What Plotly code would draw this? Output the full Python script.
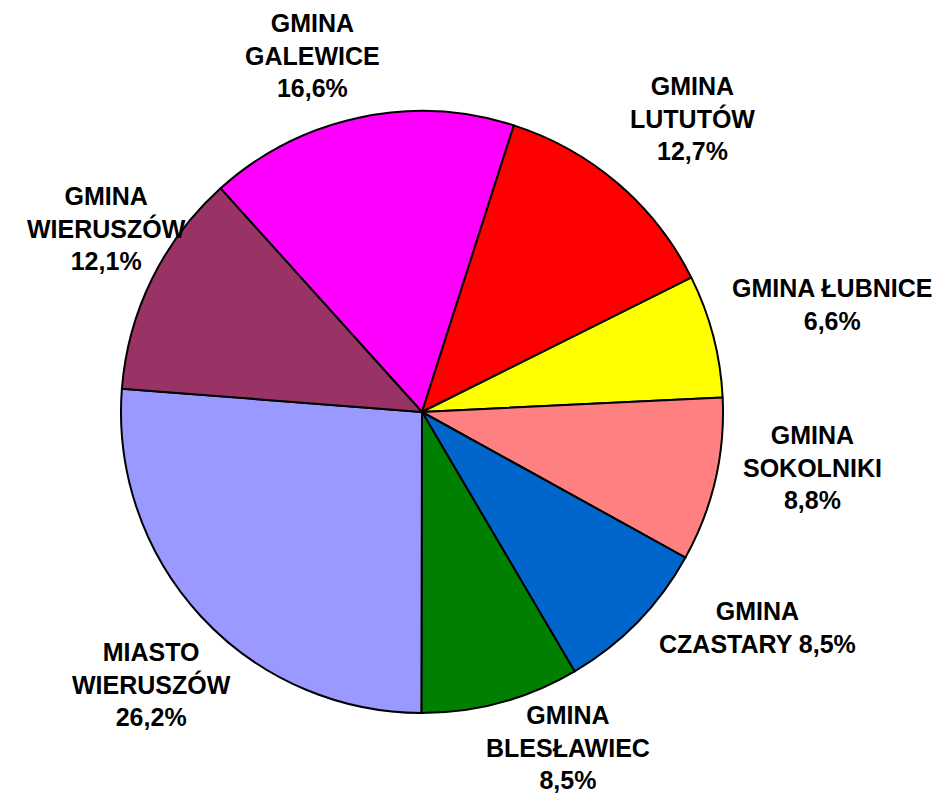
import math
import plotly.graph_objects as go

names = ["GMINA<br>GALEWICE", "GMINA<br>LUTUTÓW", "GMINA ŁUBNICE", "GMINA<br>SOKOLNIKI",
         "GMINA<br>CZASTARY", "GMINA<br>BLESŁAWIEC", "MIASTO<br>WIERUSZÓW", "GMINA<br>WIERUSZÓW"]
values = [16.6, 12.7, 6.6, 8.8, 8.5, 8.5, 26.2, 12.1]
colors = ["#FF00FF", "#FF0000", "#FFFF00", "#FF8080", "#0066CC", "#008000", "#9999FF", "#993366"]

pct = [f"{v:.1f}".replace(".", ",") + "%" for v in values]
text = [f"GMINA<br>CZASTARY {p}" if "CZASTARY" in n else f"{n}<br>{p}" for n, p in zip(names, pct)]

OFF = 8                             # default page body margin
W, H = 944 - OFF, 801 - OFF
CX, CY, R = 422 - OFF, 412 - OFF, 301   # pie centre / radius in figure pixels
ROT = -42                          # start angle of first slice (deg, clockwise from 12 o'clock)

# label placement (layout): angular shift from slice middle and distance from centre
lab_shift = [-5, 2, 0, -5, -11.5, -8.4, -2.5, 3.9]
lab_dist = [373, 399, 424, 394, 399, 366, 384, 365]

fig = go.Figure(go.Pie(
    labels=names, values=values, textinfo="none",
    sort=False, direction="clockwise", rotation=ROT,
    marker=dict(colors=colors, line=dict(color="black", width=2)),
    domain=dict(x=[(CX - R) / W, (CX + R) / W], y=[(H - CY - R) / H, (H - CY + R) / H]),
    hoverinfo="none", showlegend=False,
))

total = sum(values)
cum = 0
for v, t, s, d in zip(values, text, lab_shift, lab_dist):
    mid = ROT + 360 * (cum + v / 2) / total + s
    cum += v
    a = math.radians(mid)
    px = CX + d * math.sin(a)
    py = CY - d * math.cos(a)
    fig.add_annotation(x=px / W, y=1 - py / H, xref="paper", yref="paper",
                       text=f"<b>{t}</b>", showarrow=False, xanchor="center", yanchor="middle",
                       align="center",
                       font=dict(family="Liberation Sans, Arial", size=25, color="black"))

fig.update_layout(width=W, height=H, margin=dict(l=0, r=0, t=0, b=0),
                  paper_bgcolor="white", plot_bgcolor="white", showlegend=False)
fig.write_html("out.html")
